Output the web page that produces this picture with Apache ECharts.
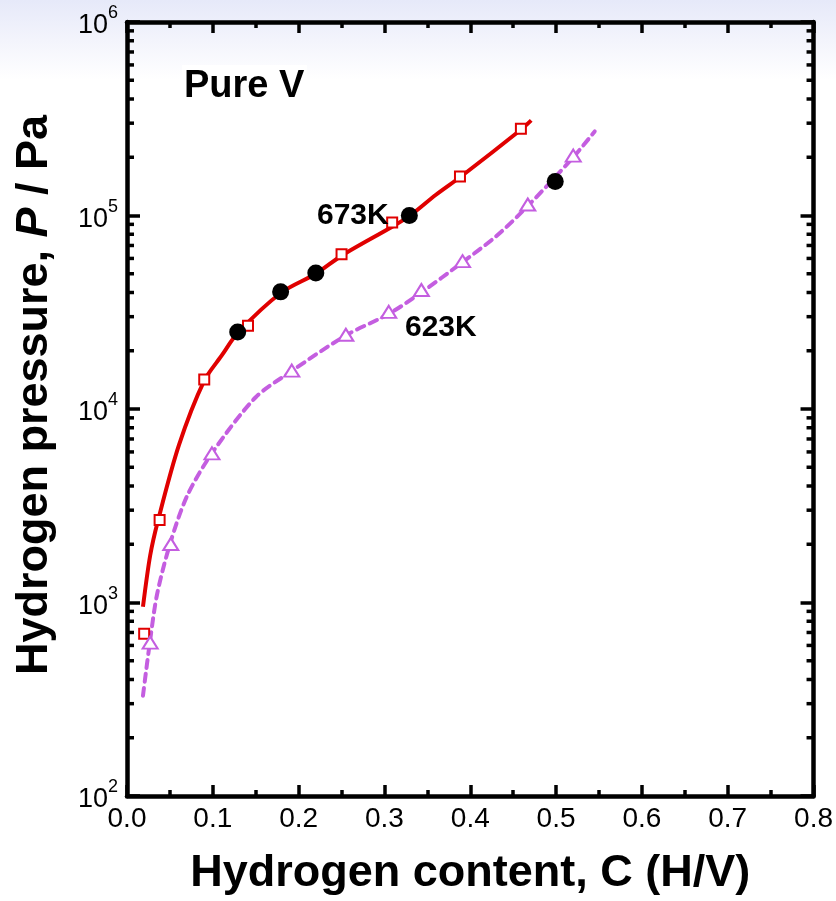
<!DOCTYPE html>
<html>
<head>
<meta charset="utf-8">
<script src="https://cdn.jsdelivr.net/npm/echarts@6/dist/echarts.min.js"></script>
<style>
  html, body { margin: 0; padding: 0; }
  body { background: linear-gradient(to bottom, #e6e9f9 0px, #f3f4fc 40px, #ffffff 80px); }
  #chart { width: 836px; height: 901px; }
</style>
</head>
<body>
<div id="chart"></div>
<script>
// 673K curve (solid red)
const redCurveC = [0.0186, 0.027, 0.036, 0.0605, 0.09, 0.11, 0.13, 0.18, 0.22, 0.25, 0.31, 0.33, 0.36, 0.39, 0.46, 0.471];
const redCurveP = [950, 1750, 2640, 6500, 14000, 18800, 25000, 40000, 50000, 62000, 88000, 100000, 128000, 160000, 280000, 310000];
// 673K open squares
const sqC = [0.02, 0.038, 0.09, 0.141, 0.25, 0.309, 0.388, 0.459];
const sqP = [690, 2670, 14200, 26900, 63000, 92000, 159000, 281000];
// filled circles
const circC = [0.129, 0.179, 0.22, 0.329, 0.499];
const circP = [25000, 40300, 50500, 100000, 150000];
// 623K curve (dashed purple)
const purpleCurveC = [0.0186, 0.027, 0.035, 0.05, 0.07, 0.1, 0.15, 0.19, 0.255, 0.305, 0.343, 0.39, 0.43, 0.467, 0.52, 0.545];
const purpleCurveP = [330, 640, 1100, 2000, 3550, 6000, 11500, 15500, 24000, 31000, 40000, 57000, 78000, 112000, 200000, 272000];
// 623K open triangles
const triC = [0.027, 0.051, 0.099, 0.192, 0.255, 0.305, 0.343, 0.391, 0.467, 0.52];
const triP = [621, 2006, 5900, 15800, 24200, 31800, 41200, 58100, 114000, 204000];
// log-axis minor ticks
const minorP = [];
[100, 1000, 10000, 100000].forEach(d => { for (let k = 2; k <= 9; k++) minorP.push(k * d); });

const zip = (a, b) => a.map((v, i) => [v, b[i]]);
const FONT = 'Arial, "Liberation Sans", sans-serif';
const RED = '#e00000';
const PURPLE = '#c45ee0';

const chart = echarts.init(document.getElementById('chart'), null, { renderer: 'canvas' });

const xBase = {
  type: 'value', min: 0, max: 0.8, interval: 0.1,
  axisLine: { show: true, onZero: false, lineStyle: { color: '#000', width: 4.5 } },
  axisTick: { show: true, inside: true, length: 11, lineStyle: { color: '#000', width: 3.5 } },
  minorTick: { show: true, splitNumber: 2, length: 6, lineStyle: { color: '#000', width: 3.5 } },
  splitLine: { show: false }, minorSplitLine: { show: false }
};
const yBase = {
  type: 'log', logBase: 10, min: 100, max: 1000000, splitNumber: 4,
  axisLine: { show: true, onZero: false, lineStyle: { color: '#000', width: 4.5 } },
  axisTick: { show: true, inside: true, length: 13, lineStyle: { color: '#000', width: 3.5 } },
  splitLine: { show: false }
};

const option = {
  backgroundColor: 'transparent',
  animation: false,
  grid: { left: 127, right: 21, top: 22, bottom: 102, containLabel: false },
  xAxis: [
    Object.assign({}, xBase, {
      position: 'bottom',
      axisLabel: { color: '#000', fontFamily: FONT, fontSize: 28, margin: 9,
        formatter: v => v.toFixed(1) },
      name: 'Hydrogen content, C (H/V)', nameLocation: 'middle', nameGap: 55,
      nameTextStyle: { color: '#000', fontFamily: FONT, fontSize: 45, fontWeight: 'bold' }
    }),
    Object.assign({}, xBase, { position: 'top', axisLabel: { show: false } })
  ],
  yAxis: [
    Object.assign({}, yBase, {
      position: 'left',
      axisLabel: {
        color: '#000', fontFamily: FONT, margin: 9,
        formatter: v => '{b|10}{s|' + Math.round(Math.log10(v)) + '}',
        rich: {
          b: { fontFamily: FONT, fontSize: 27, color: '#000', padding: [8, 0, 0, 0] },
          s: { fontFamily: FONT, fontSize: 18, color: '#000', verticalAlign: 'top' }
        }
      },
      name: '{a|Hydrogen pressure, }{i|P}{a| / Pa}', nameLocation: 'middle', nameGap: 70,
      nameTextStyle: {
        padding: [0, 0, 0, 28],
        rich: {
          a: { fontFamily: FONT, fontSize: 45, fontWeight: 'bold', color: '#000' },
          i: { fontFamily: FONT, fontSize: 45, fontWeight: 'bold', fontStyle: 'italic', color: '#000' }
        }
      }
    }),
    Object.assign({}, yBase, { position: 'right', axisLabel: { show: false } })
  ],
  graphic: [
    { type: 'rect', left: 182, top: 65, z: 9, shape: { width: 125, height: 38 }, style: { fill: '#fff' } },
    { type: 'text', left: 184, top: 68, z: 10,
      style: { text: 'Pure V', font: 'bold 38px ' + FONT, fill: '#000' } },
    { type: 'text', left: 317, top: 201, z: 10,
      style: { text: '673K', font: 'bold 30px ' + FONT, fill: '#000' } },
    { type: 'text', left: 405, top: 313, z: 10,
      style: { text: '623K', font: 'bold 30px ' + FONT, fill: '#000' } }
  ],
  series: [
    {
      type: 'custom', xAxisIndex: 0, yAxisIndex: 0, clip: false, silent: true, z: 5,
      data: minorP.map(p => [0, p]),
      renderItem: (params, api) => {
        const l = api.coord([0, api.value(1)]);
        const r = api.coord([0.8, api.value(1)]);
        const st = { stroke: '#000', lineWidth: 3.5 };
        return { type: 'group', children: [
          { type: 'line', shape: { x1: l[0], y1: l[1], x2: l[0] + 7, y2: l[1] }, style: st },
          { type: 'line', shape: { x1: r[0] - 7, y1: r[1], x2: r[0], y2: r[1] }, style: st }
        ] };
      }
    },
    {
      name: '673K', type: 'line', smooth: 0.3, showSymbol: false, z: 2,
      data: zip(redCurveC, redCurveP),
      lineStyle: { color: RED, width: 4 }
    },
    {
      name: '623K', type: 'line', smooth: 0.3, showSymbol: false, z: 2,
      data: zip(purpleCurveC, purpleCurveP),
      lineStyle: { color: PURPLE, width: 4, type: [8, 6], cap: 'round' }
    },
    {
      type: 'scatter', symbol: 'rect', symbolSize: 10, z: 3,
      data: zip(sqC, sqP),
      itemStyle: { color: '#fff', borderColor: RED, borderWidth: 2, opacity: 1 }
    },
    {
      type: 'scatter', symbol: 'triangle', symbolSize: [15, 12], z: 3,
      data: zip(triC, triP),
      itemStyle: { color: '#fff', borderColor: PURPLE, borderWidth: 2, opacity: 1 }
    },
    {
      type: 'scatter', symbol: 'circle', symbolSize: 17, z: 4,
      data: zip(circC, circP),
      itemStyle: { color: '#000', opacity: 1 }
    }
  ]
};
chart.setOption(option);
</script>
</body>
</html>
